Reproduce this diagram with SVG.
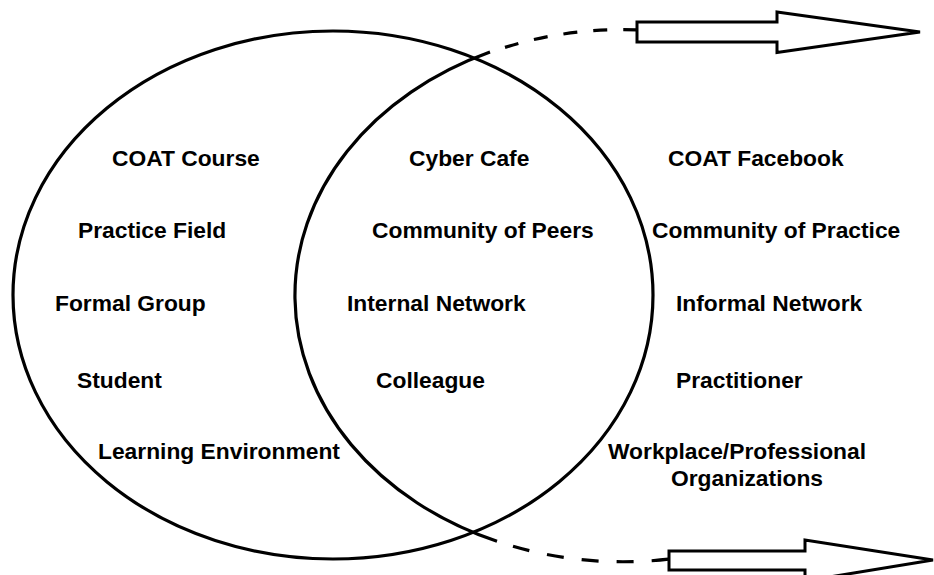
<svg xmlns="http://www.w3.org/2000/svg" width="934" height="575" viewBox="0 0 934 575">
<style>
.ring{fill:none;stroke:#000;stroke-width:3.2}
.dash{fill:none;stroke:#000;stroke-width:3.2}
.arrow{fill:#fff;stroke:#000;stroke-width:3;stroke-linejoin:miter}
.lbl{font-family:"Liberation Sans",Arial,sans-serif;font-weight:bold;font-size:22.8px;fill:#000}
</style>
<rect width="934" height="575" fill="#fff"/>
<g id="set-formal">
<ellipse class="ring" cx="333" cy="295" rx="320" ry="264"/>
</g>
<g id="set-informal">
<path class="ring" d="M 490 52.1 A 327 266 0 0 0 497 541.3"/>
</g>
<g id="connectors">
<path class="dash" stroke-dasharray="14 16" d="M 505 47.4 A 327 266 0 0 1 637 29.8"/>
<path class="dash" stroke-dasharray="17 18" d="M 513 546.3 A 327 266 0 0 0 670 559"/>
<polygon class="arrow" points="637,22 777,22 777,12 920,32 777,52.5 777,42 637,42"/>
<polygon class="arrow" points="669,551 805,551 805,540 933,560 805,581 805,570 669,570"/>
</g>
<g id="formal-labels">
<g id="n-coat-course"><text class="lbl" x="112" y="166">COAT Course</text></g>
<g id="n-practice-field"><text class="lbl" x="78" y="238">Practice Field</text></g>
<g id="n-formal-group"><text class="lbl" x="55" y="311">Formal Group</text></g>
<g id="n-student"><text class="lbl" x="77" y="388">Student</text></g>
<g id="n-learning-env"><text class="lbl" x="98" y="459">Learning Environment</text></g>
</g>
<g id="shared-labels">
<g id="n-cyber-cafe"><text class="lbl" x="409" y="166">Cyber Cafe</text></g>
<g id="n-community-peers"><text class="lbl" x="372" y="238">Community of Peers</text></g>
<g id="n-internal-network"><text class="lbl" x="347" y="311">Internal Network</text></g>
<g id="n-colleague"><text class="lbl" x="376" y="388">Colleague</text></g>
</g>
<g id="informal-labels">
<g id="n-coat-facebook"><text class="lbl" x="668" y="166">COAT Facebook</text></g>
<g id="n-community-practice"><text class="lbl" x="652" y="238">Community of Practice</text></g>
<g id="n-informal-network"><text class="lbl" x="676" y="311">Informal Network</text></g>
<g id="n-practitioner"><text class="lbl" x="676" y="388">Practitioner</text></g>
<g id="n-workplace"><text class="lbl" x="608" y="459">Workplace/Professional</text><text class="lbl" x="671" y="486">Organizations</text></g>
</g>
</svg>
